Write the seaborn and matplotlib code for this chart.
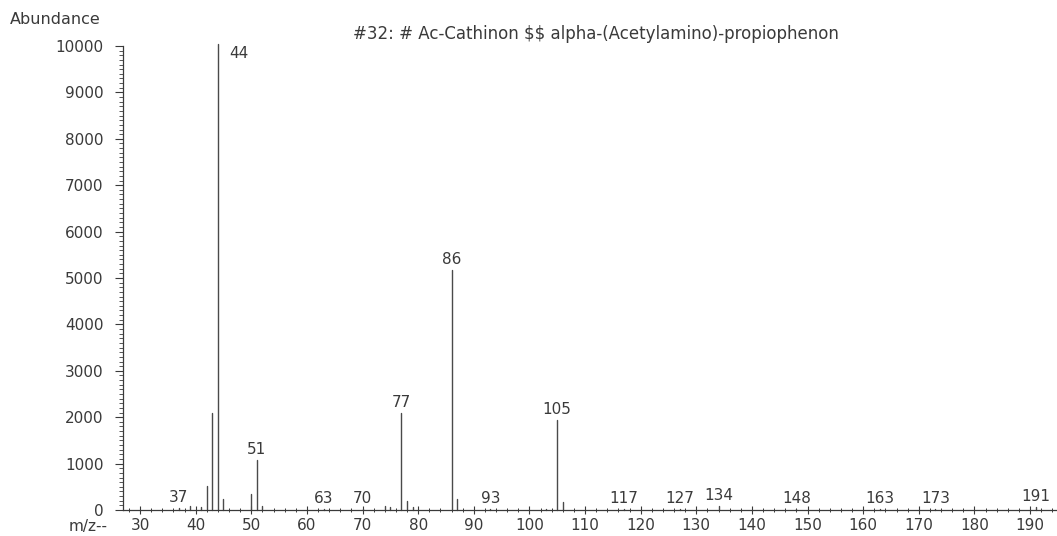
import matplotlib
matplotlib.use("Agg")
import matplotlib.pyplot as plt
import seaborn as sns
import pandas as pd
from matplotlib.ticker import MultipleLocator, FixedLocator

# ---- data ----
mz = [37, 39, 41, 42, 43, 44, 45, 50, 51, 52, 63, 70, 74, 75, 77, 78, 79,
      86, 87, 93, 103, 105, 106, 117, 127, 134, 148, 163, 173, 191]
abundance = [40, 80, 60, 520, 2100, 10050, 230, 350, 1080, 90, 30, 30, 90, 60,
             2100, 190, 60, 5170, 230, 30, 30, 1930, 180, 20, 20, 80, 20, 20, 15, 60]
labeled_mz = [37, 44, 51, 63, 70, 77, 86, 93, 105, 117, 127, 134, 148, 163, 173, 191]
x_ticks = list(range(30, 191, 10))
y_ticks = list(range(0, 10001, 1000))
title = r"#32: # Ac-Cathinon \$\$ alpha-(Acetylamino)-propiophenon"
y_label = "Abundance"
x_label = "m/z--"

sns.set_theme(style="ticks")
plt.rcParams["font.family"] = ["DejaVu Sans"]

ink = "#3a3a3a"
W, H = 1057, 536
fig = plt.figure(figsize=(W / 100, H / 100), dpi=100)
fig.patch.set_facecolor("white")

# axes geometry in pixels
ax_left, ax_bottom, ax_top = 123, 510, 36
ax = fig.add_axes([ax_left / W, 1 - ax_bottom / H, (W - ax_left) / W, (ax_bottom - ax_top) / H])
ax.set_facecolor("white")

# stick spectrum drawn through seaborn (one vertical segment per peak)
rows = []
for m, a in zip(mz, abundance):
    rows.append({"mz": m, "ab": 0.0, "peak": m})
    rows.append({"mz": m, "ab": a, "peak": m})
df = pd.DataFrame(rows)
sns.lineplot(data=df, x="mz", y="ab", units="peak", estimator=None, sort=False,
             color="#4a4a4a", linewidth=1.0, ax=ax, clip_on=False)

px_per_unit = 890 / 160.0
xmin = 30 - (140 - ax_left) / px_per_unit
xmax = 30 + (W - 140) / px_per_unit
ax.set_xlim(xmin, xmax)
ymax = (ax_bottom - ax_top) / 46.4 * 1000
ax.set_ylim(0, ymax)

ax.set_xlabel("")
ax.set_ylabel("")
for s in ["top", "right"]:
    ax.spines[s].set_visible(False)
ax.spines["left"].set_bounds(0, 10000)
ax.spines["left"].set_color(ink)
ax.spines["bottom"].set_color(ink)
ax.spines["left"].set_linewidth(0.9)
ax.spines["bottom"].set_linewidth(0.9)

ax.set_xticks(x_ticks)
ax.xaxis.set_minor_locator(MultipleLocator(2))
ax.set_yticks(y_ticks)
ax.yaxis.set_minor_locator(FixedLocator(list(range(0, 10001, 100))))
ax.tick_params(axis="x", which="major", direction="inout", length=6, width=0.8,
               colors=ink, labelsize=11, pad=3)
ax.tick_params(axis="x", which="minor", direction="inout", length=3, width=0.7, colors=ink)
ax.tick_params(axis="y", which="major", direction="out", length=6, width=0.8,
               colors=ink, labelsize=11, pad=8)
ax.tick_params(axis="y", which="minor", direction="out", length=3, width=0.6, colors=ink)

# peak labels
ab_of = dict(zip(mz, abundance))
for m in labeled_mz:
    if m == 44:
        ax.annotate(str(m), xy=(m, ab_of[m]), xytext=(11, -14), textcoords="offset pixels",
                    ha="left", va="baseline", fontsize=11, color=ink)
    else:
        ax.annotate(str(m), xy=(m, ab_of[m]), xytext=(0, 6), textcoords="offset pixels",
                    ha="center", va="baseline", fontsize=11, color=ink)

# figure texts
fig.text(10 / W, 1 - 20 / H, y_label, ha="left", va="center", fontsize=11.5, color=ink)
fig.text(596 / W, 1 - 34 / H, title, ha="center", va="center", fontsize=12, color=ink)
fig.text(108 / W, 1 - 526 / H, x_label, ha="right", va="center", fontsize=11, color=ink)

fig.savefig("out.png", dpi=100, facecolor="white")
